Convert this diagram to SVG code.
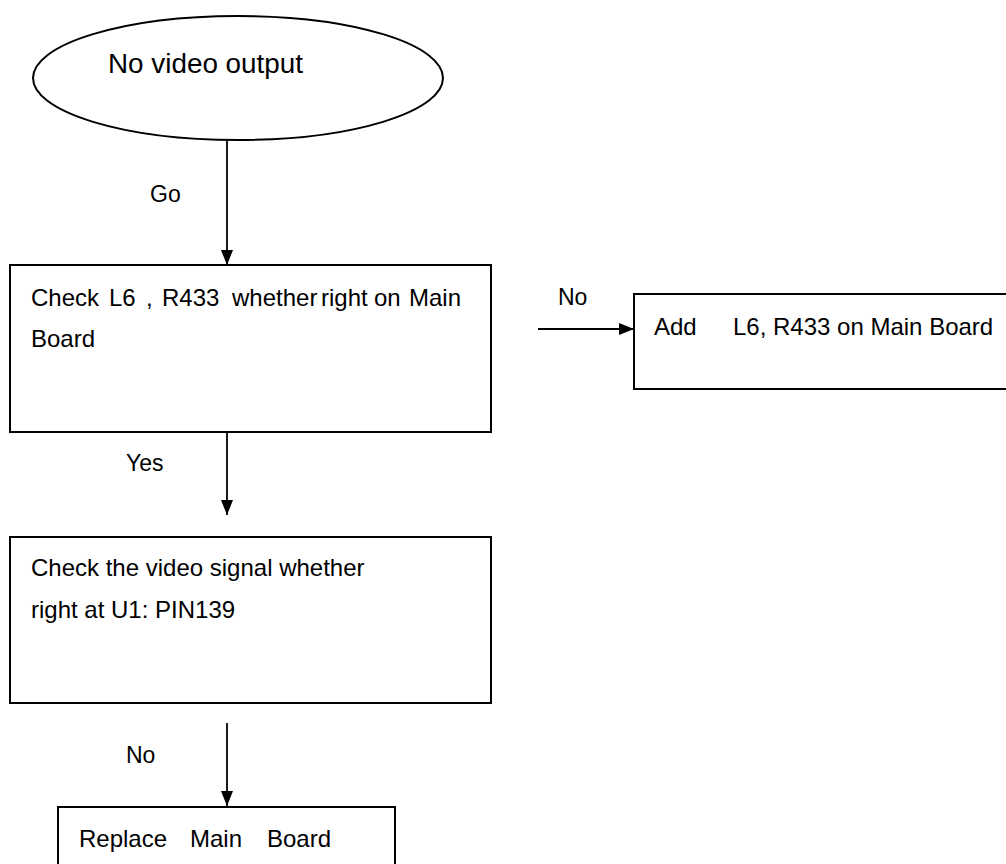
<svg xmlns="http://www.w3.org/2000/svg" width="1006" height="864" viewBox="0 0 1006 864">
<style>
.shape{fill:#fff;stroke:#000;stroke-width:2}
.t{font-family:"Liberation Sans",Arial,sans-serif;font-size:24px;fill:#000}
.title{font-family:"Liberation Sans",Arial,sans-serif;font-size:27px;fill:#000}
.lbl{font-family:"Liberation Sans",Arial,sans-serif;font-size:23px;fill:#000}
.conn{stroke:#000;stroke-width:1.8;fill:none}
</style>
<defs>
<marker id="ah" markerUnits="userSpaceOnUse" markerWidth="15" markerHeight="12" refX="15" refY="6" viewBox="0 0 15 12" orient="auto">
<path d="M0,0 L15,6 L0,12 Z" fill="#000"/>
</marker>
</defs>
<rect width="1006" height="864" fill="#fff"/>
<g id="start">
<ellipse class="shape" cx="238" cy="78" rx="205" ry="62"/>
<text class="title" x="108" y="73" textLength="195" lengthAdjust="spacingAndGlyphs">No video output</text>
</g>
<g id="check1">
<rect class="shape" x="10" y="265" width="481" height="167"/>
<text class="t" y="306"><tspan x="31">Check</tspan><tspan x="109">L6</tspan><tspan x="146">,</tspan><tspan x="162">R433</tspan><tspan x="232">whether</tspan><tspan x="321">right</tspan><tspan x="374">on</tspan><tspan x="409">Main</tspan></text>
<text class="t" x="31" y="347">Board</text>
</g>
<g id="add">
<rect class="shape" x="634" y="294" width="380" height="95"/>
<text class="t" y="335"><tspan x="654">Add</tspan><tspan x="733">L6, R433 on Main Board</tspan></text>
</g>
<g id="check2">
<rect class="shape" x="10" y="537" width="481" height="166"/>
<text class="t" x="31" y="576">Check the video signal whether</text>
<text class="t" x="31" y="618">right at U1: PIN139</text>
</g>
<g id="replace">
<rect class="shape" x="58" y="807" width="337" height="100"/>
<text class="t" y="847"><tspan x="79">Replace</tspan><tspan x="190">Main</tspan><tspan x="267">Board</tspan></text>
</g>
<g id="connectors">
<line class="conn" x1="227" y1="140" x2="227" y2="265" marker-end="url(#ah)"/>
<line class="conn" x1="227" y1="432" x2="227" y2="515" marker-end="url(#ah)"/>
<line class="conn" x1="538" y1="329" x2="634" y2="329" marker-end="url(#ah)"/>
<line class="conn" x1="227" y1="723" x2="227" y2="806" marker-end="url(#ah)"/>
<text class="lbl" x="150" y="202">Go</text>
<text class="lbl" x="558" y="305">No</text>
<text class="lbl" x="126" y="471">Yes</text>
<text class="lbl" x="126" y="763">No</text>
</g>
</svg>
